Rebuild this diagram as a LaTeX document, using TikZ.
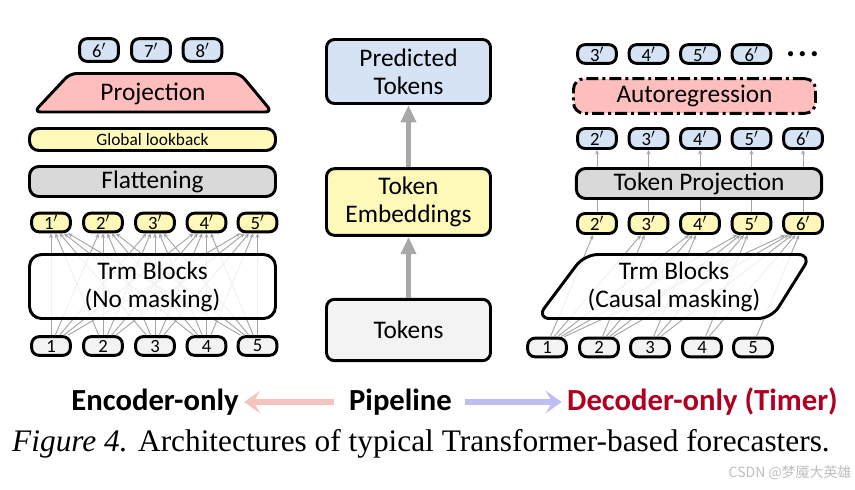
\documentclass[tikz,border=0pt]{standalone}
\usepackage{fontspec}
\setmainfont{Carlito}
\newfontfamily\capfont{Liberation Serif}
\newfontfamily\cjkfont{Noto Sans CJK SC}
\usetikzlibrary{arrows.meta,calc}
\definecolor{cblue}{RGB}{213,227,245}
\definecolor{cyellow}{RGB}{255,249,185}
\definecolor{cpink}{RGB}{255,190,190}
\definecolor{cgray}{RGB}{217,217,217}
\definecolor{clight}{RGB}{243,243,243}
\definecolor{cedge}{RGB}{165,165,165}
\definecolor{cfat}{RGB}{168,168,168}
\definecolor{cred}{RGB}{176,0,34}
\definecolor{cparrow}{RGB}{245,196,190}
\definecolor{cbarrow}{RGB}{190,190,245}
\definecolor{cwater}{RGB}{190,190,190}
\newcommand\tokfont{\fontsize{14}{16}\selectfont}
\newcommand\bigfont{\fontsize{19}{21}\selectfont}
\begin{document}
\begin{tikzpicture}[x=0.75pt,y=-0.75pt,
  tok/.style={draw,line width=2.2pt,rounded corners=5.5pt,inner sep=0pt,
    font=\tokfont,minimum width=29pt,minimum height=14pt},
  box/.style={draw,line width=2.2pt,inner sep=0pt,font=\bigfont,align=center},
  edge/.style={draw=cedge,line width=0.7pt,-{Stealth[length=3.5pt,width=3pt]}},
  plain/.style={draw=cedge,line width=0.7pt},
  fat/.style={draw=cfat,line width=3.6pt,-{Triangle[length=13pt,width=11pt]}},
  legend/.style={inner sep=0pt,font=\fontsize{23}{26}\selectfont\bfseries},
  legarrow/.style={line width=4.5pt,-{Stealth[length=12pt,width=17pt,inset=5pt]}}]
\useasboundingbox (0,0) rectangle (855,489);

% ---------------- left panel ----------------
\node[tok,fill=cblue,minimum height=17pt] (l6) at (99,50) {6$'$};
\node[tok,fill=cblue,minimum height=17pt] (l7) at (151,50) {7$'$};
\node[tok,fill=cblue,minimum height=17pt] (l8) at (202.5,50) {8$'$};
\draw[line width=2.2pt,fill=cpink,rounded corners=5pt]
  (70,73.5) -- (240,73.5) -- (272,112) -- (34,112) -- cycle;
\node[inner sep=0pt,font=\bigfont] (proj) at (153,94) {Projection};
\node[box,fill=cyellow,rounded corners=7pt,minimum width=184.5pt,minimum height=16.5pt,
  font=\fontsize{13}{15}\selectfont] (glb) at (152.5,139.5) {Global lookback};
\node[box,fill=cgray,rounded corners=7pt,minimum width=184.5pt,minimum height=22.5pt]
  (flat) at (152.5,181.5) {Flattening};
\foreach \k/\x in {1/51,2/103,3/155,4/206.5,5/257.5}{
  \node[tok,fill=cyellow] (p\k) at (\x,222.5) {\k$'$};
  \node[tok,fill=clight] (b\k) at (\x,346) {\k};
}
\foreach \i in {1,...,5}{\foreach \j in {1,...,5}{
  \pgfmathsetmacro\so{(\j-\i)*3.2}
  \pgfmathsetmacro\eo{(\i-\j)*3.2}
  \draw[edge] ([xshift=\so pt]b\i.north) -- ([xshift=\eo pt]p\j.south);
}}
\node[box,fill=white,fill opacity=0.85,text opacity=1,rounded corners=9pt,
  minimum width=184.5pt,minimum height=48pt] (ltrm) at (152.5,286.5)
  {Trm Blocks\\(No masking)};

% ---------------- middle ----------------
\node[box,fill=cblue,rounded corners=6pt,minimum width=123pt,minimum height=48pt]
  (pred) at (408.5,71.5) {Predicted\\Tokens};
\node[box,fill=cyellow,rounded corners=6pt,minimum width=123pt,minimum height=50pt]
  (emb) at (408.5,202) {Token\\Embeddings};
\node[box,fill=clight,rounded corners=6pt,minimum width=123pt,minimum height=46pt]
  (tks) at (408.5,330) {Tokens};
\draw[fat] (tks) -- (emb);
\draw[fat] (emb) -- (pred);

% ---------------- right panel ----------------
\foreach \k/\x in {3/597,4/648.5,5/700,6/751.5}{
  \node[tok,fill=cblue] (r\k) at (\x,54) {\k$'$};
}
\node[inner sep=0pt,font=\fontsize{10}{12}\selectfont] (dots) at (802.5,55)
  {$\bullet\,\bullet\,\bullet$};
\node[box,fill=cpink,rounded corners=8pt,minimum width=181.5pt,minimum height=26pt,
  dash pattern=on 9pt off 3pt on 2.2pt off 3pt] (ar) at (694.5,96) {Autoregression};
\node[box,fill=cgray,rounded corners=7pt,minimum width=184pt,minimum height=22.5pt]
  (tproj) at (699,183.5) {Token Projection};
\foreach \k/\x in {2/597,3/648.5,4/700,5/751.5,6/803}{
  \node[tok,fill=cblue,minimum height=15pt] (q\k) at (\x,138.5) {\k$'$};
  \node[tok,fill=cyellow,minimum height=15pt] (y\k) at (\x,223.5) {\k$'$};
  \draw[edge] (q\k.south |- tproj.north) -- (q\k.south);
  \draw[plain] (y\k.north) -- (y\k.north |- tproj.south);
}
\foreach \k/\x in {1/547,2/599,3/650,4/702,5/753}{
  \node[tok,fill=clight] (c\k) at (\x,347.5) {\k};
}
\foreach \j in {2,...,6}{
  \pgfmathtruncatemacro\jm{\j-1}
  \foreach \i in {1,...,\jm}{
    \pgfmathsetmacro\so{(\j-\i)*2.6}
    \pgfmathsetmacro\eo{-3-(\j-1-\i)*2.6}
    \draw[edge] ([xshift=\so pt]c\i.north) -- ([xshift=\eo pt]y\j.south);
}}
\draw[line width=2.2pt,fill=white,fill opacity=0.85,rounded corners=10pt]
  (584.5,254.5) -- (811.5,254.5) -- (771.5,318.5) -- (536.5,318.5) -- cycle;
\node[inner sep=0pt,font=\bigfont,align=center] (rtrm) at (674,287)
  {Trm Blocks\\(Causal masking)};

% ---------------- legend ----------------
\node[legend] (enc) at (155,402) {Encoder-only};
\node[legend] (pipe) at (400.5,402) {Pipeline};
\node[legend,text=cred] (dec) at (702.5,402) {Decoder-only (Timer)};
\draw[legarrow,draw=cparrow,shorten <=11pt,shorten >=4pt] (pipe.west) -- (enc.east);
\draw[legarrow,draw=cbarrow,shorten <=10pt,shorten >=4pt] (pipe.east) -- (dec.west);

% ---------------- caption ----------------
\node[inner sep=0pt,font=\capfont\fontsize{23.5}{27}\selectfont] (cap) at (421,444)
  {\textit{Figure 4.} Architectures of typical Transformer-based forecasters.};
\node[inner sep=0pt,text=cwater,font=\cjkfont\fontsize{10.5}{12}\selectfont,anchor=east]
  (wm) at (852,473) {CSDN @梦魇大英雄};
\end{tikzpicture}
\end{document}
